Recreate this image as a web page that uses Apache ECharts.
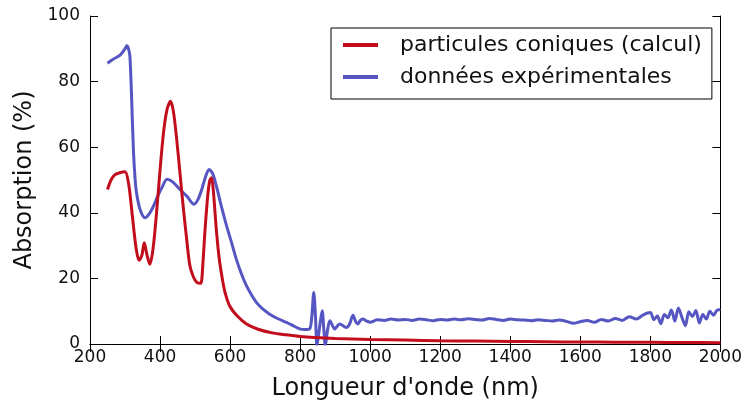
<!DOCTYPE html>
<html>
<head>
<meta charset="utf-8">
<script src="https://cdn.jsdelivr.net/npm/echarts@6/dist/echarts.min.js"></script>
<style>
  html, body { margin: 0; padding: 0; background: #fff; }
  #chart { width: 745px; height: 406px; }
</style>
</head>
<body>
<div id="chart"></div>
<script>
// Wavelength (nm) and absorption (%) for the computed spectrum of conical particles
const calcWavelength = [250, 260, 270, 285, 300, 310, 318, 325, 332, 340, 348, 355, 362, 371, 380, 390, 400, 410, 420, 430, 438, 447, 457, 466, 476, 485, 495, 505, 516, 522, 528, 536, 542, 547, 552, 561, 569, 576, 585, 599, 620, 647, 680, 720, 760, 800, 840, 900, 1000, 1100, 1200, 1300, 1400, 1500, 1600, 1700, 1800, 1900, 2000];
const calcAbsorption = [47.1, 50.0, 51.5, 52.2, 52.5, 49, 42, 35, 29, 25.5, 27, 30.9, 27.5, 24.3, 29, 40, 53, 64.5, 71.5, 74, 71, 63, 52, 42, 32, 24, 20.5, 18.8, 18.5, 24, 34, 45, 49.8, 50.7, 47, 34.5, 26, 21, 16, 11.6, 8.6, 6.1, 4.5, 3.4, 2.8, 2.3, 2.0, 1.7, 1.4, 1.2, 1.0, 0.9, 0.8, 0.7, 0.6, 0.55, 0.5, 0.45, 0.4];

// Wavelength (nm) and absorption (%) for the measured spectrum
const expWavelength = [250, 266, 286, 300, 305, 310, 314, 319, 324, 329, 333, 343, 357, 368, 381, 393, 405, 420, 435, 457, 477, 497, 508, 519, 530, 540, 550, 561, 575, 590, 604, 618, 632, 647, 661, 675, 694, 713, 737, 761, 780, 799, 813, 827, 833, 839, 844, 848, 853, 858, 863, 868, 872, 878, 885, 899, 913, 932, 941, 951, 958, 965, 972, 979, 990, 1000, 1020, 1040, 1060, 1080, 1100, 1120, 1140, 1160, 1180, 1200, 1220, 1240, 1260, 1280, 1300, 1320, 1340, 1360, 1380, 1400, 1420, 1440, 1460, 1480, 1500, 1520, 1540, 1560, 1580, 1600, 1620, 1640, 1660, 1680, 1700, 1720, 1740, 1760, 1780, 1800, 1810, 1820, 1830, 1840, 1850, 1860, 1870, 1880, 1890, 1900, 1910, 1920, 1930, 1940, 1950, 1960, 1970, 1980, 1990, 2000];
const expAbsorption = [85.6, 86.8, 88.1, 90, 90.9, 90, 87.6, 74.5, 59, 50, 46, 41, 38.5, 39.5, 42, 45, 47.6, 50.2, 49.5, 47.1, 45, 42.6, 44, 47.1, 51, 53.2, 52, 48.1, 42, 36, 31, 25.8, 21.5, 17.7, 15, 12.7, 10.6, 9.1, 7.7, 6.6, 5.6, 4.6, 4.4, 4.6, 8, 15.7, 8, -0.5, 3, 7, 10.1, 4, -0.5, 4, 7.1, 4.6, 6.1, 5, 6, 8.8, 7, 6.1, 7.2, 7.6, 7, 6.6, 7.4, 7.2, 7.6, 7.3, 7.5, 7.2, 7.6, 7.4, 7.1, 7.5, 7.3, 7.6, 7.4, 7.7, 7.5, 7.3, 7.8, 7.5, 7.2, 7.6, 7.4, 7.3, 7.1, 7.4, 7.2, 7.0, 7.3, 6.9, 6.3, 6.8, 7.2, 6.6, 7.5, 7.0, 7.8, 7.2, 8.3, 7.6, 8.9, 9.6, 7.4, 8.5, 6.2, 9.0, 8.0, 10.4, 7.0, 11.0, 8.2, 5.6, 9.8, 8.4, 10.2, 6.4, 9.0, 7.6, 10.0, 8.8, 10.2, 10.5];

const seriesNames = ['particules coniques (calcul)', 'données expérimentales'];
const xTitle = "Longueur d'onde (nm)";
const yTitle = 'Absorption (%)';

const FONT = 'DejaVu Sans';
const RED = '#c20e1c';
const BLUE = '#5656c2';

const pairs = (xs, ys) => xs.map((x, i) => [x, ys[i]]);
const plain = v => String(v);

const frameAxis = {
  axisLine: { show: true, lineStyle: { color: '#000', width: 1 } },
  axisTick: { show: true, inside: true, length: 8, lineStyle: { color: '#000', width: 1 } },
  splitLine: { show: false }
};

const chart = echarts.init(document.getElementById('chart'), null, { renderer: 'canvas' });
chart.setOption({
  animation: false,
  backgroundColor: '#fff',
  textStyle: { fontFamily: FONT },
  grid: { left: 90, right: 24, top: 16, bottom: 61 },
  legend: {
    data: seriesNames,
    orient: 'vertical',
    left: 331,
    top: 28,
    padding: [4, 10, 9, 12],
    itemGap: 6,
    itemWidth: 35,
    itemHeight: 4,
    icon: 'rect',
    borderColor: '#000',
    borderWidth: 1,
    backgroundColor: '#fff',
    textStyle: { fontFamily: FONT, fontSize: 22, color: '#111', lineHeight: 26, padding: [0, 0, 0, 17] }
  },
  xAxis: [
    Object.assign({
      type: 'value', min: 200, max: 2000, interval: 200, position: 'bottom',
      name: xTitle, nameLocation: 'middle', nameGap: 33,
      nameTextStyle: { fontFamily: FONT, fontSize: 24, color: '#111' },
      axisLabel: { fontFamily: FONT, fontSize: 17, color: '#111', margin: 5, formatter: plain }
    }, frameAxis),
    Object.assign({
      type: 'value', min: 200, max: 2000, interval: 200, position: 'top',
      axisLabel: { show: false }
    }, frameAxis)
  ],
  yAxis: [
    Object.assign({
      type: 'value', min: 0, max: 100, interval: 20, position: 'left',
      name: yTitle, nameLocation: 'middle', nameGap: 50,
      nameTextStyle: { fontFamily: FONT, fontSize: 24, color: '#111' },
      axisLabel: { fontFamily: FONT, fontSize: 17, color: '#111', margin: 10, formatter: plain }
    }, frameAxis),
    Object.assign({
      type: 'value', min: 0, max: 100, interval: 20, position: 'right',
      axisLabel: { show: false }
    }, frameAxis)
  ],
  series: [
    {
      name: seriesNames[0], type: 'line', xAxisIndex: 0, yAxisIndex: 0,
      data: pairs(calcWavelength, calcAbsorption),
      showSymbol: false, smooth: 0.3, clip: true, z: 3,
      lineStyle: { color: RED, width: 3 }, itemStyle: { color: RED }
    },
    {
      name: seriesNames[1], type: 'line', xAxisIndex: 0, yAxisIndex: 0,
      data: pairs(expWavelength, expAbsorption),
      showSymbol: false, smooth: 0.3, clip: true, z: 2,
      lineStyle: { color: BLUE, width: 3 }, itemStyle: { color: BLUE }
    }
  ]
});
</script>
</body>
</html>
